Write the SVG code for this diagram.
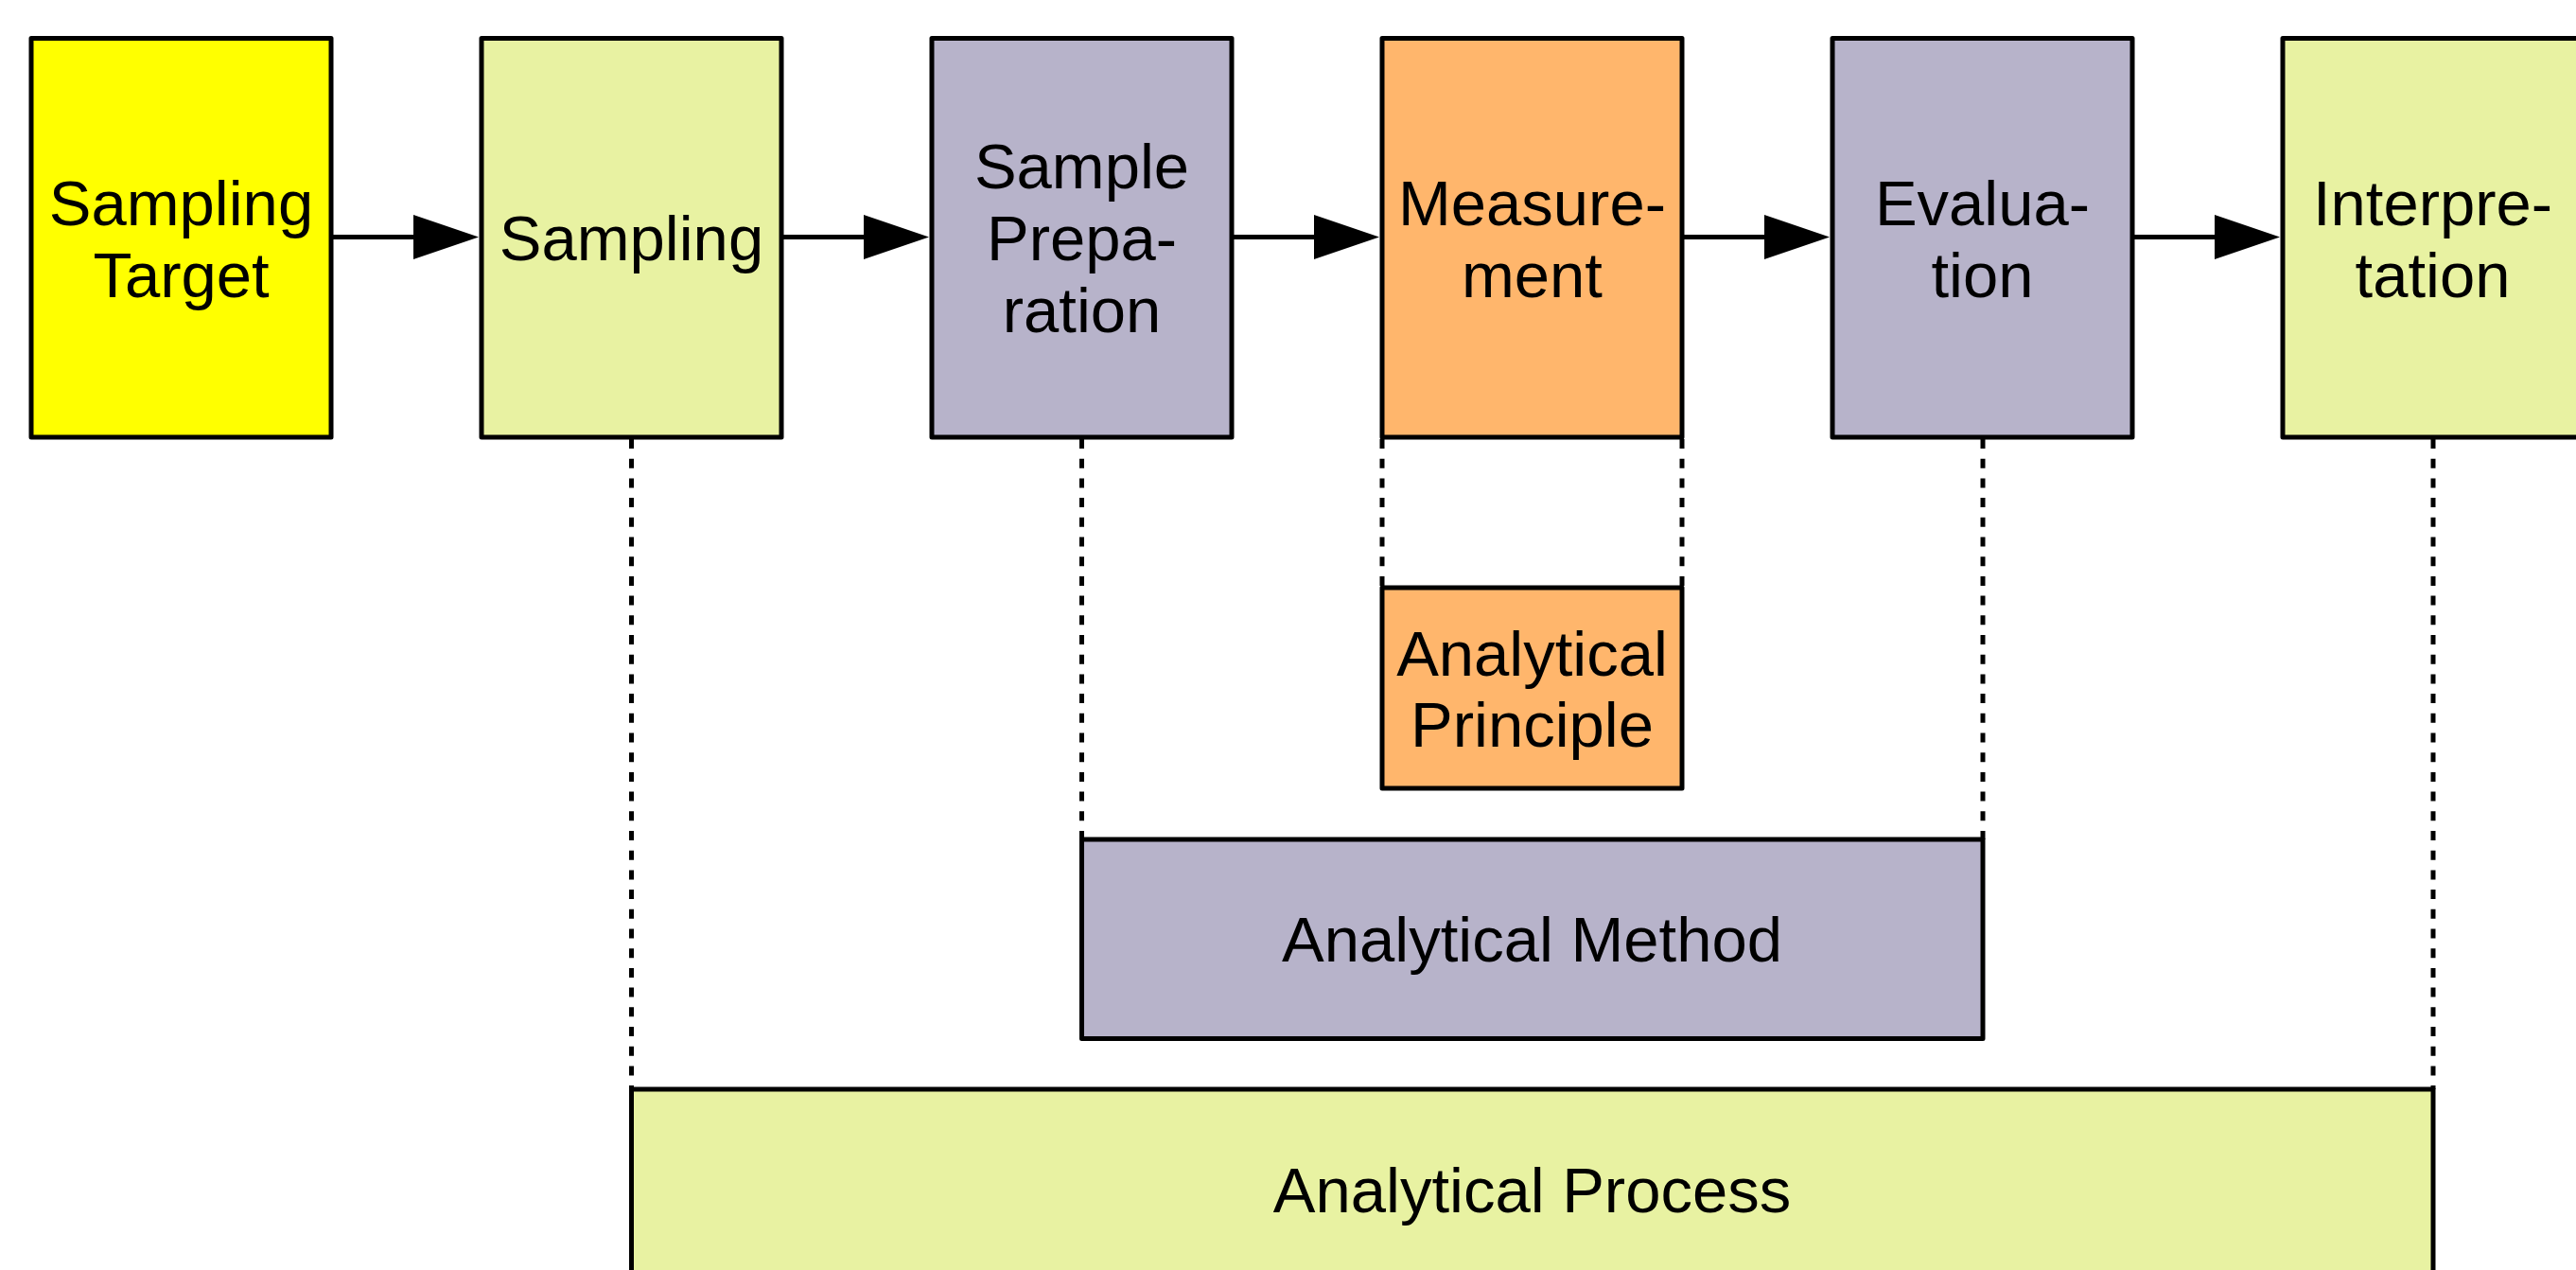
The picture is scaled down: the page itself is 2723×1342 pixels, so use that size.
<svg xmlns="http://www.w3.org/2000/svg" width="2723" height="1342" viewBox="0 0 2723 1342">
<style>
.box{stroke:#000;stroke-width:5;stroke-linejoin:round}
.yel{fill:#ffff00}
.grn{fill:#e8f2a2}
.lav{fill:#b7b3ca}
.org{fill:#ffb66c}
.lbl{font-family:"Liberation Sans",Arial,sans-serif;font-size:67px;fill:#000;text-anchor:middle}
.flow{stroke:#000;stroke-width:5;fill:none}
.dot{stroke:#000;stroke-width:5;fill:none;stroke-dasharray:10 10.7}
.head{fill:#000}
</style>
<rect width="2723" height="1342" fill="#fff"/>
<g id="connectors">
<line class="flow" x1="350" y1="250.5" x2="440" y2="250.5"/>
<polygon class="head" points="437,227 506,250.5 437,274"/>
<line class="flow" x1="826" y1="250.5" x2="916" y2="250.5"/>
<polygon class="head" points="913,227 982,250.5 913,274"/>
<line class="flow" x1="1302" y1="250.5" x2="1392" y2="250.5"/>
<polygon class="head" points="1389,227 1458,250.5 1389,274"/>
<line class="flow" x1="1778" y1="250.5" x2="1868" y2="250.5"/>
<polygon class="head" points="1865,227 1934,250.5 1865,274"/>
<line class="flow" x1="2254" y1="250.5" x2="2344" y2="250.5"/>
<polygon class="head" points="2341,227 2410,250.5 2341,274"/>
<line class="dot" x1="667.5" y1="464" x2="667.5" y2="1151"/>
<line class="dot" x1="1143.5" y1="464" x2="1143.5" y2="887"/>
<line class="dot" x1="1461" y1="464" x2="1461" y2="621"/>
<line class="dot" x1="1778" y1="464" x2="1778" y2="621"/>
<line class="dot" x1="2096" y1="464" x2="2096" y2="887"/>
<line class="dot" x1="2572" y1="464" x2="2572" y2="1151"/>
</g>
<g id="sampling-target">
<rect class="box yel" x="33" y="40.5" width="317" height="421.5"/>
<text class="lbl" x="191.5" y="238">Sampling</text>
<text class="lbl" x="191.5" y="314">Target</text>
</g>
<g id="sampling">
<rect class="box grn" x="509" y="40.5" width="317" height="421.5"/>
<text class="lbl" x="667.5" y="275">Sampling</text>
</g>
<g id="sample-preparation">
<rect class="box lav" x="985" y="40.5" width="317" height="421.5"/>
<text class="lbl" x="1143.5" y="199">Sample</text>
<text class="lbl" x="1143.5" y="275">Prepa-</text>
<text class="lbl" x="1143.5" y="351">ration</text>
</g>
<g id="measurement">
<rect class="box org" x="1461" y="40.5" width="317" height="421.5"/>
<text class="lbl" x="1619.5" y="238">Measure-</text>
<text class="lbl" x="1619.5" y="314">ment</text>
</g>
<g id="evaluation">
<rect class="box lav" x="1937" y="40.5" width="317" height="421.5"/>
<text class="lbl" x="2095.5" y="238">Evalua-</text>
<text class="lbl" x="2095.5" y="314">tion</text>
</g>
<g id="interpretation">
<rect class="box grn" x="2413" y="40.5" width="317" height="421.5"/>
<text class="lbl" x="2571.5" y="238">Interpre-</text>
<text class="lbl" x="2571.5" y="314">tation</text>
</g>
<g id="analytical-principle">
<rect class="box org" x="1461" y="621" width="317" height="212"/>
<text class="lbl" x="1619.5" y="714">Analytical</text>
<text class="lbl" x="1619.5" y="789">Principle</text>
</g>
<g id="analytical-method">
<rect class="box lav" x="1143.5" y="887" width="952.5" height="210.5"/>
<text class="lbl" x="1619.5" y="1016">Analytical Method</text>
</g>
<g id="analytical-process">
<rect class="box grn" x="667.5" y="1151" width="1904.5" height="220"/>
<text class="lbl" x="1619.5" y="1281">Analytical Process</text>
</g>
</svg>
